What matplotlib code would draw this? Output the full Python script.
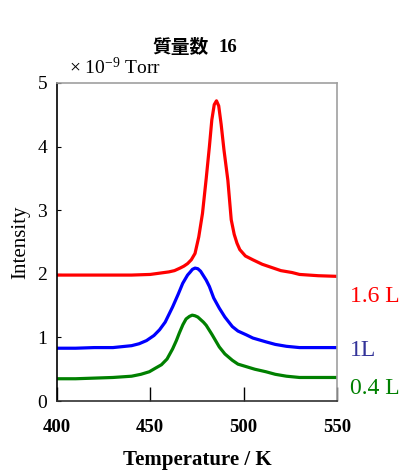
"""
TPD spectrum, mass 16: three coverages stacked on one axis.
"""
import matplotlib
matplotlib.use("Agg")
import matplotlib.pyplot as plt

# temperature (K) / intensity (x 1e-9 Torr)
t_red = [400, 410, 420, 430, 440, 450, 455, 460, 463, 466, 468, 470, 472,
         474, 476, 478, 480, 481.7, 483, 484.3, 485.5, 486.7, 488, 489.5,
         491.6, 493.4, 495, 496.5, 498, 501, 505, 510, 514, 520, 526, 530,
         540, 550]
i_red = [1.98, 1.98, 1.98, 1.98, 1.98, 1.99, 2.01, 2.03, 2.05, 2.09, 2.12, 2.16,
         2.22, 2.32, 2.58, 2.95, 3.5, 4.0, 4.42, 4.66, 4.72, 4.64, 4.35, 3.95,
         3.47, 2.85, 2.62, 2.48, 2.38, 2.28, 2.22, 2.15, 2.11, 2.05, 2.02, 1.99,
         1.97, 1.96]

t_blue = [400, 410, 420, 430, 440, 444, 448, 452, 455, 458, 460, 462, 465,
          467.4, 470, 471.5, 472.6, 474, 475.5, 477, 478.5, 480, 481.7, 484,
          487, 490, 494, 497, 501.5, 505, 512, 517, 523, 530, 540, 550]
i_blue = [0.83, 0.83, 0.84, 0.84, 0.87, 0.9, 0.95, 1.03, 1.12, 1.24, 1.36, 1.48,
          1.68, 1.85, 1.98, 2.03, 2.07, 2.09, 2.08, 2.04, 1.97, 1.9, 1.8, 1.62,
          1.46, 1.32, 1.17, 1.1, 1.04, 0.99, 0.93, 0.89, 0.86, 0.84, 0.84, 0.84]

t_green = [400, 410, 420, 430, 440, 445, 449.5, 453, 456, 459, 462, 464,
           465.6, 467.5, 469.2, 471, 472.5, 474, 475.5, 477, 478.5, 480, 483,
           487, 490, 494, 497, 501.5, 506, 512, 517, 523, 530, 540, 550]
i_green = [0.35, 0.35, 0.36, 0.37, 0.39, 0.42, 0.46, 0.52, 0.57, 0.66, 0.82,
           0.95, 1.07, 1.2, 1.29, 1.33, 1.35, 1.34, 1.32, 1.28, 1.24, 1.19, 1.05,
           0.85, 0.74, 0.64, 0.58, 0.54, 0.5, 0.46, 0.42, 0.39, 0.37, 0.37, 0.37]

labels = ["1.6 L", "1L", "0.4 L"]
label_y = [1.65, 0.80, 0.20]
x_ticks = [400, 450, 500, 550]
y_ticks = [0, 1, 2, 3, 4, 5]

SERIF = "Liberation Serif"


def main():
    plt.rcParams.update({
        "font.family": SERIF,
        "mathtext.fontset": "custom",
        "mathtext.rm": SERIF,
        "mathtext.it": SERIF,
    })

    fig = plt.figure(figsize=(4.01, 4.71), dpi=100)
    ax = fig.add_axes([0.142, 0.1486, 0.698, 0.6752])

    lw = 2.3
    ax.plot(t_red, i_red, color="#ff0000", linewidth=lw)
    ax.plot(t_blue, i_blue, color="#0000ff", linewidth=lw)
    ax.plot(t_green, i_green, color="#008000", linewidth=lw)

    ax.set_xlim(400, 550)
    ax.set_ylim(0, 5)
    ax.set_xticks(x_ticks)
    ax.set_yticks(y_ticks)
    ax.tick_params(axis="x", direction="in", length=10, width=1.0, pad=13,
                   labelsize=13.5)
    ax.tick_params(axis="y", direction="in", length=3, width=0.8, pad=7,
                   labelsize=14)
    for lab in ax.get_xticklabels():
        lab.set_fontweight("bold")

    ax.spines["left"].set_color("black")
    ax.spines["bottom"].set_color("#303030")
    ax.spines["top"].set_color("#a0a0a0")
    ax.spines["right"].set_color("#a0a0a0")
    for sp in ax.spines.values():
        sp.set_linewidth(1.2)

    colors = ["#ff0000", "#333399", "#008000"]
    for txt, yv, c in zip(labels, label_y, colors):
        ax.text(557, yv, txt, color=c, fontsize=17, va="center", ha="left",
                clip_on=False)

    ax.set_ylabel("Intensity", fontsize=15, labelpad=5)
    ax.set_xlabel("Temperature / K", fontsize=15, fontweight="bold",
                  labelpad=10)

    fig.text(0.521, 0.900, "質量数", family=["Noto Sans CJK JP", "DejaVu Sans"],
             fontsize=13.5, fontweight="bold", ha="right", va="center")
    fig.text(0.546, 0.900, "16", fontsize=13.5, fontweight="bold",
             ha="left", va="center")
    fig.text(0.172, 0.856, "× 10$^{-9}$ Torr", fontsize=14, ha="left",
             va="center")

    fig.savefig("out.png", dpi=100)
    plt.close(fig)


if __name__ == "__main__":
    main()
